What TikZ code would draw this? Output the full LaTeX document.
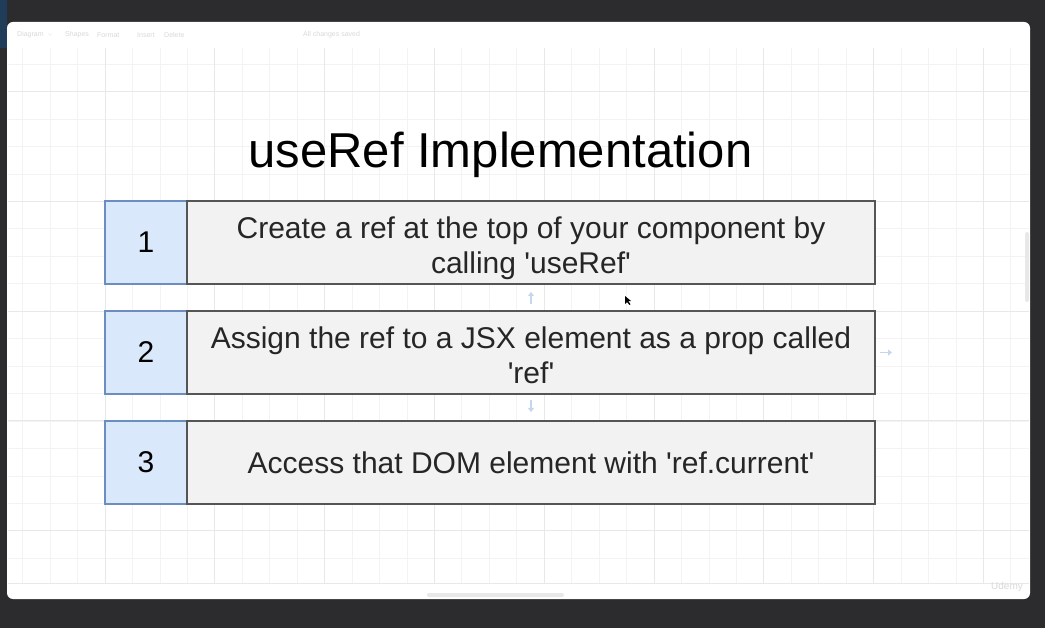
\documentclass[tikz,border=0pt]{standalone}
\usepackage{fontspec}
\setmainfont{Liberation Sans}[Ligatures=TeXOff]
\usetikzlibrary{arrows.meta}
\definecolor{darkbg}{HTML}{2C2C2E}
\definecolor{bluestrip}{HTML}{1F3D58}
\definecolor{gridminor}{HTML}{F3F3F3}
\definecolor{gridmajor}{HTML}{E8E8E8}
\definecolor{numfill}{HTML}{DAE8FC}
\definecolor{numdraw}{HTML}{6C8EBF}
\definecolor{txtfill}{HTML}{F2F2F2}
\definecolor{txtdraw}{HTML}{555555}
\definecolor{hoverblue}{HTML}{C5D7EE}
\definecolor{faint}{HTML}{D9D9D9}
\tikzset{
  numbox/.style={draw=numdraw, fill=numfill, line width=2.5pt, minimum width=82pt, minimum height=83pt, inner sep=0pt, outer sep=0pt, font=\fontsize{30}{35}\selectfont, text=black},
  txtbox/.style={draw=txtdraw, fill=txtfill, line width=2.5pt, minimum width=688pt, minimum height=83pt, inner sep=0pt, outer sep=0pt},
  boxtext/.style={align=center, inner sep=0pt, font=\fontsize{30}{35}\selectfont, text=black!85},
  hoverarrow/.style={draw=hoverblue, line width=1.6pt, -{Triangle[length=4pt,width=6pt]}},
  toolbar/.style={text=faint, font=\fontsize{7}{8}\selectfont, inner sep=0pt, anchor=west},
  gline/.style={draw=gridminor, line width=0.8pt},
  gmajor/.style={draw=gridmajor, line width=1pt}
}
\begin{document}
\begin{tikzpicture}[x=1pt,y=-1pt]
\useasboundingbox (0,0) rectangle (1045,628);
% background
\fill[darkbg] (0,0) rectangle (1045,628);
\fill[bluestrip] (0,0) rectangle (7,48);
\fill[white, rounded corners=6pt] (7,22) rectangle (1030,599);
% grid
\begin{scope}
\clip (8,48) rectangle (1029,583);
\foreach \i in {-3,...,33} {\draw[gline] ({105+27.45*\i},48) -- ({105+27.45*\i},583);}
\foreach \j in {-13,...,6} {\draw[gline] (8,{421+27.45*\j}) -- (1029,{421+27.45*\j});}
\foreach \i in {0,4,...,32} {\draw[gmajor] ({105+27.45*\i},48) -- ({105+27.45*\i},583);}
\foreach \j in {-12,-8,-4,0,4} {\draw[gmajor] (8,{421+27.45*\j}) -- (1029,{421+27.45*\j});}
\end{scope}
% toolbar (faint)
\node[toolbar] (tb1) at (17,35) {Diagram \,\,$\scriptscriptstyle\vee$};
\node[toolbar] (tb2) at (65,35) {Shapes};
\node[toolbar] (tb3) at (97,35) {Format};
\node[toolbar] (tb4) at (137,35) {Insert};
\node[toolbar] (tb5) at (164,35) {Delete};
\node[toolbar] (tb6) at (303,35) {All changes saved};
% bottom bar
\draw[gridmajor, line width=0.6pt] (8,583) -- (1029,583);
\fill[gridmajor, rounded corners=2pt] (427,593) rectangle (564,597);
\fill[gridmajor, rounded corners=2pt] (1025,232) rectangle (1029,302);
\node[text=faint, font=\fontsize{10}{12}\selectfont, inner sep=0pt] (udemy) at (1007,587) {Udemy};
% title
\node[font=\fontsize{49}{55}\selectfont, anchor=base, inner sep=0pt] (title) at (500.5,168) {useRef Implementation};
% rows
\node[numbox] (n1) at (146,242.5) {1};
\node[txtbox, anchor=west] (t1) at (187,242.5) {};
\node[boxtext] (l1) at ([yshift=-6pt]t1.center) {Create a ref at the top of your component by\\calling 'useRef'};
\node[numbox] (n2) at (146,352.5) {2};
\node[txtbox, anchor=west] (t2) at (187,352.5) {};
\node[boxtext] (l2) at ([yshift=-3pt]t2.center) {Assign the ref to a JSX element as a prop called\\'ref'};
\node[numbox] (n3) at (146,462.5) {3};
\node[txtbox, anchor=west] (t3) at (187,462.5) {};
\node[boxtext] (l3) at (t3.center) {Access that DOM element with 'ref.current'};
% hover arrows
\draw[hoverarrow] ([yshift=-20pt]t1.south) -- ([yshift=-8pt]t1.south);
\draw[hoverarrow] ([yshift=-6pt]t2.south) -- ([yshift=-18pt]t2.south);
\draw[hoverarrow] ([xshift=5pt]t2.east) -- ([xshift=17pt]t2.east);
% cursor
\coordinate (cur) at (625,296);
\fill[black] (cur) -- ++(0,8) -- ++(2,-2) -- ++(2.5,3) -- ++(1,-0.8) -- ++(-2.2,-3) -- ++(3,0) -- cycle;
\end{tikzpicture}
\end{document}
